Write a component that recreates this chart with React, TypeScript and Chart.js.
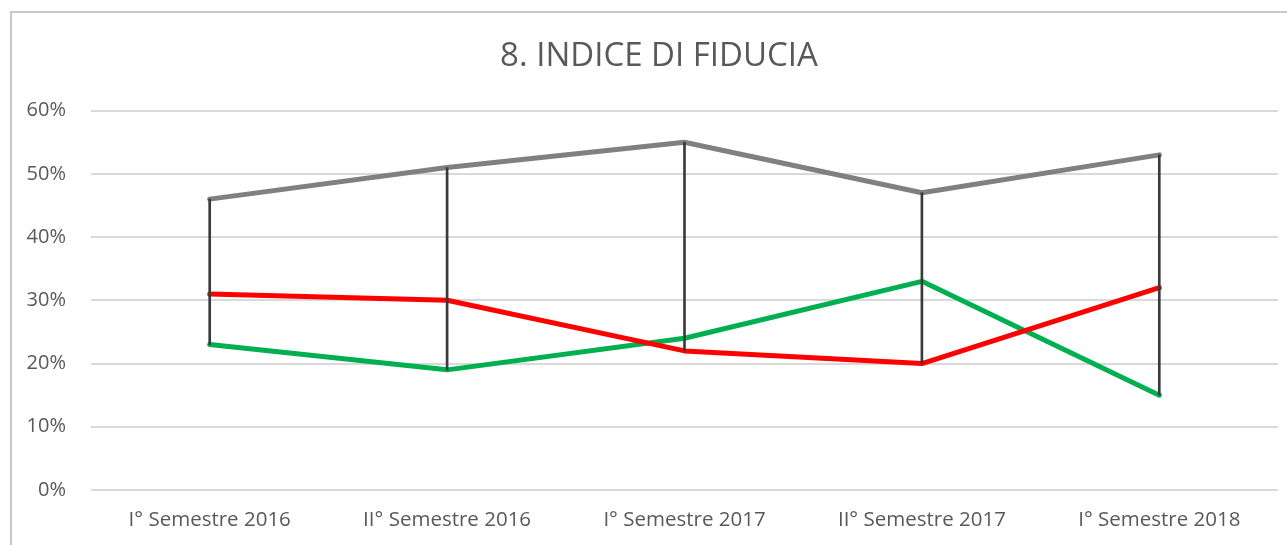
import React, { useEffect, useRef } from "react";
import { Chart, registerables } from "chart.js";

Chart.register(...registerables);

const categories = [
  "I° Semestre 2016",
  "II° Semestre 2016",
  "I° Semestre 2017",
  "II° Semestre 2017",
  "I° Semestre 2018",
];
const graySeries = [46, 51, 55, 47, 53];
const redSeries = [31, 30, 22, 20, 32];
const greenSeries = [23, 19, 24, 33, 15];
const yTicks = [0, 10, 20, 30, 40, 50, 60];
const titleText = "8. INDICE DI FIDUCIA";

const FONT = "'Open Sans', 'DejaVu Sans', sans-serif";

// Centre the title on the full (uncropped) chart box, as in the reference.
const titleCenterPlugin = {
  id: "titleCenter",
  afterLayout(chart: any) {
    const t = chart.titleBlock;
    if (t) {
      t.left = 0;
      t.right = 1318;
      t.width = 1318;
    }
  },
};

export default function App() {
  const ref = useRef<HTMLCanvasElement | null>(null);

  useEffect(() => {
    if (!ref.current) return;
    const highLow = categories.map((_, i) => {
      const vals = [graySeries[i], redSeries[i], greenSeries[i]];
      return [Math.min(...vals), Math.max(...vals)];
    });
    const lineStyle = {
      pointRadius: 0,
      pointHoverRadius: 0,
      borderWidth: 5,
      borderCapStyle: "round" as const,
      borderJoinStyle: "round" as const,
      tension: 0,
      fill: false,
      order: 1,
    };
    const chart = new Chart(ref.current, {
      type: "line",
      data: {
        labels: categories,
        datasets: [
          {
            type: "bar",
            label: "HighLow",
            data: highLow as any,
            backgroundColor: "#3a3a3a",
            borderWidth: 0,
            barThickness: 2,
            order: 0,
          } as any,
          { label: "Serie1", data: graySeries, borderColor: "#808080", backgroundColor: "#808080", ...lineStyle },
          { label: "Serie2", data: redSeries, borderColor: "#ff0000", backgroundColor: "#ff0000", ...lineStyle },
          { label: "Serie3", data: greenSeries, borderColor: "#00b050", backgroundColor: "#00b050", ...lineStyle },
        ],
      },
      options: {
        animation: false,
        responsive: false,
        maintainAspectRatio: false,
        layout: { padding: { left: 0, right: 9, top: 0, bottom: 0 } },
        plugins: {
          legend: { display: false },
          tooltip: { enabled: false },
          title: {
            display: true,
            text: titleText,
            color: "#595959",
            font: { family: FONT, size: 33, weight: "normal" as any },
            padding: { top: 37, bottom: 34 },
          },
        },
        scales: {
          x: {
            type: "category",
            offset: true,
            afterFit: (scale: any) => {
              scale.height = 55;
            },
            grid: { display: false, drawTicks: false },
            border: { display: false },
            ticks: {
              color: "#595959",
              font: { family: FONT, size: 20.5 },
              padding: 18,
              maxRotation: 0,
              autoSkip: false,
            },
          },
          y: {
            min: 0,
            max: 60,
            afterBuildTicks: (scale: any) => {
              scale.ticks = yTicks.map((v) => ({ value: v }));
            },
            afterFit: (scale: any) => {
              scale.width = 91;
            },
            grid: { color: "#d9d9d9", lineWidth: 2, drawTicks: false },
            border: { display: false },
            ticks: {
              color: "#595959",
              font: { family: FONT, size: 20 },
              padding: 25,
              callback: (v: any) => v + "%",
            },
          },
        },
      },
      plugins: [titleCenterPlugin],
    });
    return () => chart.destroy();
  }, []);

  return (
    <div
      style={{
        position: "fixed",
        left: 0,
        top: 0,
        width: 1287,
        height: 545,
        background: "#fff",
        overflow: "hidden",
      }}
    >
      <div
        style={{
          position: "absolute",
          left: 10,
          top: 11,
          width: 1300,
          height: 600,
          border: "2px solid #c8c8c8",
          boxSizing: "border-box",
        }}
      />
      <canvas
        ref={ref}
        width={1287}
        height={545}
        style={{ position: "absolute", left: 0, top: 0, width: 1287, height: 545 }}
      />
    </div>
  );
}
